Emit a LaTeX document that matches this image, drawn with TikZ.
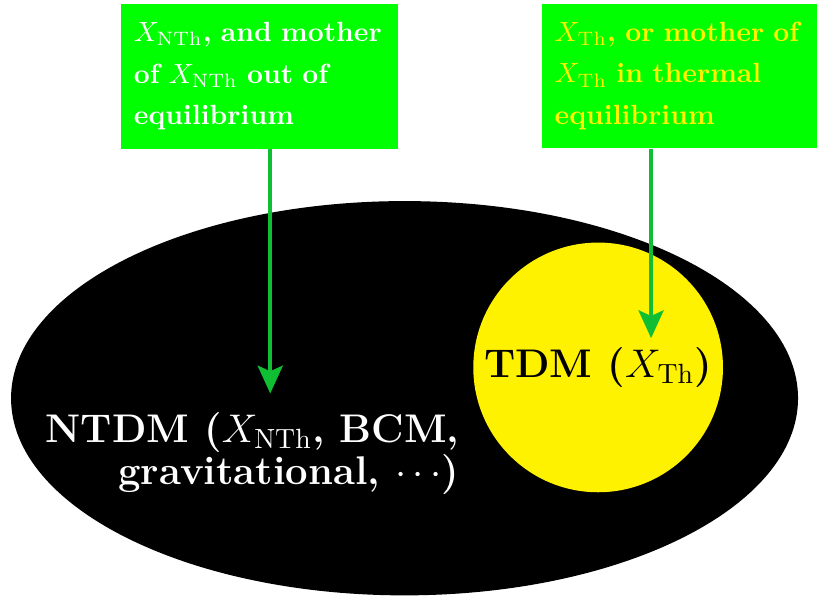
\documentclass[tikz,border=0pt]{standalone}
\usetikzlibrary{shapes.geometric,arrows.meta}
\definecolor{arrowgreen}{RGB}{15,190,50}
\begin{document}
\begin{tikzpicture}[>={Stealth[length=10pt,width=9pt,inset=2pt]},
  infobox/.style={fill=green, text width=3.18cm, inner xsep=0.16cm,
    minimum height=1.83cm, align=left,
    font=\fontsize{10}{15}\selectfont\bfseries},
  bigtext/.style={font=\fontsize{14.4}{14.4}\selectfont\bfseries},
  flow/.style={->, arrowgreen, line width=1.5pt}]

\useasboundingbox (-5.12,-2.61) rectangle (5.22,5.04);

%=== halo with the thermal part ===
\node[ellipse, fill=black, inner sep=0pt,
  minimum width=9.96cm, minimum height=4.99cm] (halo) at (0,0) {};
\node[circle, fill=yellow, inner sep=0pt, minimum size=3.16cm, bigtext]
  (tdm) at (2.45,0.39) {TDM ($X_{\mathrm{Th}}$)};
\node[bigtext, text=white, align=right, inner sep=0pt, anchor=east]
  (ntdm) at (0.70,-0.70)
  {NTDM ($X_{\mathrm{NTh}}$, BCM,\\ gravitational, $\cdots$)};

%=== boxes on top ===
\node[infobox, text=white] (nthbox) at (-1.835,4.075)
  {$X_{\mathrm{NTh}}$, and mother\\ of $X_{\mathrm{NTh}}$ out of\\ equilibrium};
\node[infobox, text=yellow] (thbox) at (3.49,4.08)
  {$X_{\mathrm{Th}}$, or mother of\\ $X_{\mathrm{Th}}$ in thermal\\ equilibrium};

% arrows down into the halo
\coordinate (ntdmtip) at (-1.70,0.06);
\coordinate (tdmtip) at (3.12,0.76);
\draw[flow] (ntdmtip |- nthbox.south) -- (ntdmtip);
\draw[flow] (tdmtip |- thbox.south) -- (tdmtip);

\end{tikzpicture}
\end{document}
